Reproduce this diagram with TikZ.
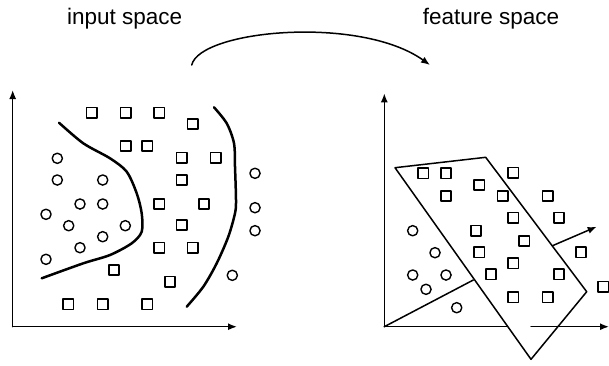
\documentclass[tikz,border=0pt]{standalone}
\usepackage{fontspec}
\setmainfont{Liberation Sans}
\usetikzlibrary{arrows.meta}
\tikzset{
  sq/.style={draw, rectangle, minimum size=10.2pt, inner sep=0pt, line width=1.5pt},
  ci/.style={draw, circle, minimum size=10.2pt, inner sep=0pt, line width=1.4pt},
  ax/.style={-{Latex[length=9pt,width=7pt]}, line width=1.5pt},
  sep/.style={line width=2.5pt}
}
\begin{document}
\begin{tikzpicture}[line cap=round, line join=round, x=1pt, y=-1pt]

  % Khung hinh
  \useasboundingbox (0,0) rectangle (609,365);

  % Tieu de
  \node[anchor=base, font=\fontsize{22.5}{27}\selectfont] (tin) at (124.7,24) {input space};
  \node[anchor=base, font=\fontsize{22.5}{27}\selectfont] (tfe) at (491,24) {feature space};

  % Mui ten anh xa
  \coordinate (mapA) at (191.7,65);
  \coordinate (mapB) at (430,65);
  \draw[ax] (mapA) .. controls (200,30) and (360,15) .. (mapB);

  % ---------- Khong gian dau vao ----------
  \coordinate (Lo) at (12.7,326.7);
  \coordinate (Ly) at (12.7,90);
  \coordinate (Lx) at (237,326.7);
  \draw[ax] (Lo) -- (Ly);
  \draw[ax] (Lo) -- (Lx);

  % Duong phan cach
  \draw[sep] plot[smooth] coordinates {(59,122.7) (83.3,143.3) (110,158.3) (126.7,171.7)
    (136.7,193.3) (141.7,213.3) (141.7,231.7) (131.7,243.3) (110,255) (83.3,263.3) (41.7,278.3)};
  \draw[sep] plot[smooth] coordinates {(214,107.3) (226.7,123.3) (234,143.3) (235,166.7)
    (236,200) (235,213.3) (228.3,236.7) (216.7,263.3) (203.3,286.7) (186.7,306.7)};

  % Hinh vuong
  \foreach \p [count=\i] in {(91.7,112.7),(125.7,112.7),(159.3,112.7),(192.7,124),
    (125.7,146),(147.3,146),(181.7,157.7),(215.7,157.7),(181.7,180),(159.3,204),
    (204,204),(181.7,225),(159.3,247.7),(192.7,247.7),(114,270),(170,281.7),
    (68.3,304.3),(102.7,304.3),(147.3,304.3)}
    \node[sq] (ls\i) at \p {};

  % Hinh tron
  \foreach \p [count=\i] in {(57.3,158.3),(57.3,180),(102.7,180),(80,204),(102.7,204),
    (46,214.3),(68.7,225.7),(125.3,225.7),(102.7,236.7),(80,247.7),(46,259.3),
    (255,173.3),(255,207.7),(255,230.7),(232.3,275.3)}
    \node[ci] (lc\i) at \p {};

  % ---------- Khong gian dac trung ----------
  \coordinate (Ro) at (384.3,326.7);
  \coordinate (Ry) at (384.3,93.3);
  \coordinate (Rx1) at (507.5,326.7);
  \coordinate (Rx2) at (531,326.7);
  \coordinate (Rx) at (609,326.7);
  \draw[ax] (Ro) -- (Ry);
  \draw[line width=1.5pt] (Ro) -- (Rx1);
  \draw[ax] (Rx2) -- (Rx);

  % Mat phang
  \coordinate (P1) at (395,167.7);
  \coordinate (P2) at (485.7,157.3);
  \coordinate (P3) at (586.7,291.7);
  \coordinate (P4) at (531,359.3);
  \draw[line width=1.5pt] (P1) -- (P2) -- (P3) -- (P4) -- cycle;
  \coordinate (Pm) at (473.3,280);
  \draw[line width=1.5pt] (Ro) -- (Pm);

  % Vecto phap tuyen
  \coordinate (Na) at (552.5,245.7);
  \coordinate (Nb) at (596.7,226.7);
  \draw[ax] (Na) -- (Nb);

  % Hinh vuong
  \foreach \p [count=\i] in {(423.3,173.3),(446,173.3),(513.3,172.7),(479.3,185),
    (446,196),(502.7,196),(547.7,196),(513.3,217.7),(559,217.7),(476,230.7),
    (524.3,241),(479.3,252.3),(581,252.3),(513.3,263.3),(491,274.3),(559,274.3),
    (603.3,286.7),(513.3,297.3),(547.7,297.3)}
    \node[sq] (rs\i) at \p {};

  % Hinh tron
  \foreach \p [count=\i] in {(412.7,230.7),(435,252.7),(412.7,275),(446,275),
    (426,289.3),(456.7,307.7)}
    \node[ci] (rc\i) at \p {};

\end{tikzpicture}
\end{document}
